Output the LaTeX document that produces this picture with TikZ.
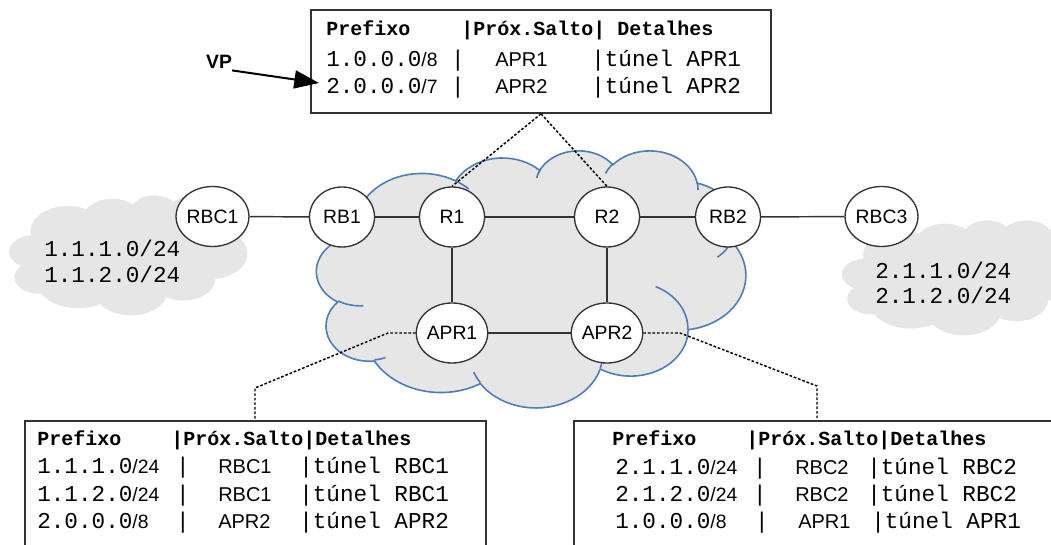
\documentclass[tikz,border=0pt]{standalone}
\usepackage{fontspec}
\usetikzlibrary{shapes.geometric,arrows.meta}
\newfontfamily\monof{Liberation Mono}
\newfontfamily\sansf{Liberation Sans}
\definecolor{cloudgray}{HTML}{E6E6E6}
\definecolor{cloudblue}{HTML}{4F7DB8}
\definecolor{edgegray}{HTML}{333333}

% one elliptic arc of the cloud outline: x radius, y radius, start angle, sweep (visual angles)
\newcommand\cldarc[4]{arc[x radius=#1, y radius=#2,
  start angle={atan2((#1)*sin(#3),(#2)*cos(#3))},
  delta angle={mod(atan2((#1)*sin((#3)+(#4)),(#2)*cos((#3)+(#4)))-atan2((#1)*sin(#3),(#2)*cos(#3))+720,360)}]}

% cloud outline in a 432 x 432 frame
\newcommand\cldoutline{(39.00,143.70)
  \cldarc{67.53}{91.90}{-190.487}{123.781}
  \cldarc{53.33}{72.67}{-144.102}{89.945}
  \cldarc{43.65}{59.45}{-145.808}{99.723}
  \cldarc{48.57}{65.95}{-130.986}{117.242}
  \cldarc{53.33}{72.73}{-78.709}{109.027}
  \cldarc{67.75}{92.20}{-46.267}{130.269}
  \cldarc{57.85}{78.67}{0.625}{114.033}
  \cldarc{67.52}{92.15}{22.452}{115.173}
  \cldarc{77.20}{105.43}{66.243}{75.711}
  \cldarc{43.60}{59.18}{-274.942}{146.736}
  \cldarc{43.45}{59.45}{-246.829}{152.519}
  -- cycle}

% short inner arcs between the lobes
\newcommand\cldtails{
  (46.93,261.77) \cldarc{43.45}{59.45}{86.742}{26.430}
  (69.28,348.99) \cldarc{43.60}{59.18}{73.610}{11.447}
  (164.78,390.90) \cldarc{67.52}{92.15}{137.624}{14.081}
  (288.27,347.51) \cldarc{67.52}{92.15}{6.453}{15.998}
  (341.29,229.54) \cldarc{57.85}{78.67}{-70.292}{70.917}
  (417.98,153.54) \cldarc{53.33}{72.73}{30.318}{27.752}
  (383.24,54.26) \cldarc{48.57}{65.95}{-13.744}{14.859}
  (290.78,39.52) \cldarc{48.57}{65.95}{-149.181}{18.195}
  (221.41,47.20) \cldarc{43.65}{59.45}{-163.494}{17.686}
  (140.00,51.92) \cldarc{67.53}{91.90}{-66.707}{12.319}
  (41.27,157.89) \cldarc{67.53}{91.90}{157.654}{11.858}}

\newcommand\sm[1]{{\sansf\fontsize{14.5}{16}\selectfont #1}}

\tikzset{
  rtr/.style={ellipse, draw=edgegray, line width=1pt, fill=white,
    minimum width=48.75pt, minimum height=45pt, inner sep=0pt,
    font=\sansf\fontsize{14.5}{16}\selectfont},
  link/.style={draw=edgegray, line width=1.1pt},
  note/.style={draw=black, line width=1.1pt, dash pattern=on 2pt off 1.4pt},
  tablebox/.style={draw=edgegray, line width=1.2pt, fill=white, inner sep=0pt},
  hdr/.style={anchor=base west, inner sep=0pt, font=\monof\bfseries\fontsize{15}{17}\selectfont},
  cell/.style={anchor=base west, inner sep=0pt, font=\monof\fontsize{17}{19}\selectfont},
  bar/.style={anchor=base, inner sep=0pt, font=\monof\fontsize{17}{19}\selectfont},
  hop/.style={anchor=base west, inner sep=0pt, font=\sansf\fontsize{15}{17}\selectfont},
  cloudtxt/.style={anchor=base west, inner sep=0pt, font=\monof\fontsize{17}{19}\selectfont},
  vparrow/.style={draw=black, line width=1.5pt, -{Triangle[length=18.5pt,width=13.5pt]}},
}

\begin{document}
\begin{tikzpicture}[x=0.75pt, y=-0.75pt]
\path[use as bounding box] (0,0) rectangle (1051,545);
\clip (0,0) rectangle (1051,545);

% --- clouds ---
\begin{scope}[shift={(9.3,195)}, x=0.4132pt, y=-0.2083pt]
  \fill[cloudgray] \cldoutline;
\end{scope}
\begin{scope}[shift={(842,220)}, x=0.4132pt, y=-0.1997pt]
  \fill[cloudgray] \cldoutline;
\end{scope}
\begin{scope}[shift={(316.7,150)}, x=0.7448pt, y=-0.4462pt]
  \path[fill=cloudgray, draw=cloudblue, line width=1.2pt] \cldoutline;
  \draw[cloudblue, line width=1.2pt] \cldtails;
\end{scope}

% --- access network prefixes ---
\node[cloudtxt] (la) at (44,257) {1.1.1.0/24};
\node[cloudtxt] (lb) at (44,283) {1.1.2.0/24};
\node[cloudtxt] (ra) at (875,279) {2.1.1.0/24};
\node[cloudtxt] (rb) at (875,304) {2.1.2.0/24};

% --- routers ---
\node[rtr] (rbc1) at (212.5,216.5) {RBC1};
\node[rtr] (rb1)  at (342,217) {RB1};
\node[rtr] (r1)   at (452,217) {R1};
\node[rtr] (r2)   at (607,217) {R2};
\node[rtr] (rb2)  at (728,217) {RB2};
\node[rtr] (rbc3) at (881.5,216.5) {RBC3};
\node[rtr] (apr1) at (452,333) {APR1};
\node[rtr] (apr2) at (607,333) {APR2};

\draw[link] (rbc1) -- (rb1);
\draw[link] (rb1) -- (r1);
\draw[link] (r1) -- (r2);
\draw[link] (r2) -- (rb2);
\draw[link] (rb2) -- (rbc3);
\draw[link] (r1) -- (apr1);
\draw[link] (r2) -- (apr2);
\draw[link] (apr1) -- (apr2);

% --- forwarding tables ---
\node[tablebox, minimum width=345pt, minimum height=77.25pt] (fib) at (541,61.5) {};
\node[tablebox, minimum width=345.75pt, minimum height=105pt, anchor=north west] (fibl) at (24,420) {};
\node[tablebox, minimum width=366pt, minimum height=105pt, anchor=north west] (fibr) at (573,420) {};

% top table
\node[hdr] (th1) at (326,36) {Prefixo};
\node[hdr] (th2) at (461,36) {|Próx.Salto| Detalhes};
\node[cell] (ta1) at (326,67) {1.0.0.0\sm{/8}};
\node[bar]  (ta2) at (458,67) {|};
\node[hop]  (ta3) at (495,67) {APR1};
\node[cell] (ta4) at (591,67) {|túnel APR1};
\node[cell] (tb1) at (326,94) {2.0.0.0\sm{/7}};
\node[bar]  (tb2) at (458,94) {|};
\node[hop]  (tb3) at (495,94) {APR2};
\node[cell] (tb4) at (591,94) {|túnel APR2};

% left table
\node[hdr] (lh1) at (37,446) {Prefixo};
\node[hdr] (lh2) at (171,446) {|Próx.Salto|Detalhes};
\node[cell] (l11) at (37,474) {1.1.1.0\sm{/24}};
\node[bar]  (l12) at (183,474) {|};
\node[hop]  (l13) at (218,474) {RBC1};
\node[cell] (l14) at (299,474) {|túnel RBC1};
\node[cell] (l21) at (37,502) {1.1.2.0\sm{/24}};
\node[bar]  (l22) at (183,502) {|};
\node[hop]  (l23) at (218,502) {RBC1};
\node[cell] (l24) at (299,502) {|túnel RBC1};
\node[cell] (l31) at (37,529) {2.0.0.0\sm{/8}};
\node[bar]  (l32) at (183,529) {|};
\node[hop]  (l33) at (218,529) {APR2};
\node[cell] (l34) at (299,529) {|túnel APR2};

% right table
\node[hdr] (rh1) at (612,446) {Prefixo};
\node[hdr] (rh2) at (746,446) {|Próx.Salto|Detalhes};
\node[cell] (r11) at (615,475) {2.1.1.0\sm{/24}};
\node[bar]  (r12) at (760,475) {|};
\node[hop]  (r13) at (795,475) {RBC2};
\node[cell] (r14) at (867,475) {|túnel RBC2};
\node[cell] (r21) at (615,502) {2.1.2.0\sm{/24}};
\node[bar]  (r22) at (760,502) {|};
\node[hop]  (r23) at (795,502) {RBC2};
\node[cell] (r24) at (867,502) {|túnel RBC2};
\node[cell] (r31) at (615,529) {1.0.0.0\sm{/8}};
\node[bar]  (r32) at (762,529) {|};
\node[hop]  (r33) at (798,529) {APR1};
\node[cell] (r34) at (871,529) {|túnel APR1};

% --- callout connectors ---
\draw[note] (fib.south) -- (r1.north);
\draw[note] (fib.south) -- (r2.north);
\coordinate (ka) at (388,333);
\coordinate (kb) at (255,388);
\draw[note] (apr1.west) -- (ka) -- (kb) -- (kb |- fibl.north);
\coordinate (kc) at (680,333);
\coordinate (kd) at (817,386);
\draw[note] (apr2.east) -- (kc) -- (kd) -- (kd |- fibr.north);

% --- VP marker ---
\node[inner sep=0pt, font=\sansf\bfseries\fontsize{14.5}{16}\selectfont] (vp) at (219,61.5) {VP};
\coordinate (vptip) at (319,83);
\draw[vparrow] ([yshift=-1.5pt]vp.south east) -- (vptip);
\end{tikzpicture}
\end{document}
